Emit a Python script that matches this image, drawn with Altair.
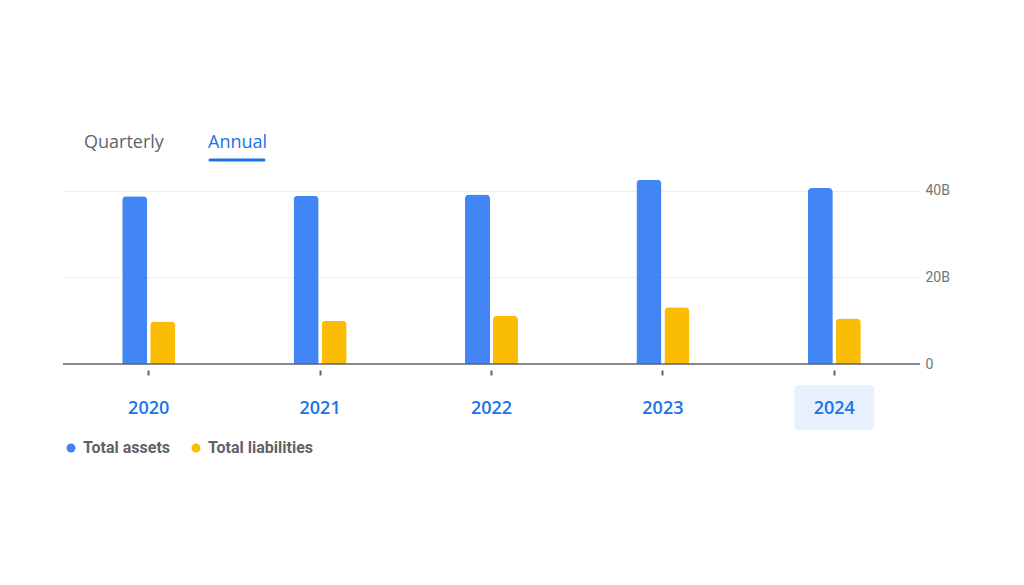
import altair as alt
import pandas as pd

years = ["2020", "2021", "2022", "2023", "2024"]
total_assets = [38.7, 38.8, 39.1, 42.5, 40.6]        # billions
total_liabilities = [9.8, 10.0, 11.1, 13.1, 10.5]    # billions
series = ["Total assets", "Total liabilities"]
colors = ["#4285f4", "#fbbc04"]
tabs = ["Quarterly", "Annual"]
selected_year = "2024"

rows = []
for y, a, l in zip(years, total_assets, total_liabilities):
    rows.append({"year": y, "series": series[0], "value": a})
    rows.append({"year": y, "series": series[1], "value": l})
df = pd.DataFrame(rows)

W, H = 857, 195
step = W / len(years)
group = 53
off_lo = (step - group) / 2

xscale = alt.Scale(domain=years, paddingInner=0, paddingOuter=0)
xaxis = alt.Axis(title=None, domain=False, offset=6, tickSize=5, tickWidth=2,
                 tickColor="#5f6368", labelColor="#1a73e8", labelFontSize=18,
                 labelFontWeight=600, labelFont="Open Sans", labelPadding=24,
                 labelAngle=0, labelAlign="center", labelOverlap=False,
                 labelBound=False, grid=False, zindex=2)

bars = alt.Chart(df).mark_bar(cornerRadiusTopLeft=4, cornerRadiusTopRight=4).encode(
    x=alt.X("year:N", scale=xscale, sort=years, axis=xaxis),
    xOffset=alt.XOffset("series:N", sort=series,
                        scale=alt.Scale(domain=series, range=[off_lo, off_lo + group],
                                        paddingInner=0.107, paddingOuter=0)),
    y=alt.Y("value:Q", scale=alt.Scale(domain=[0, 45], nice=False),
            axis=alt.Axis(title=None, orient="right", values=[0, 20, 40], domain=False,
                          ticks=False, labelExpr="datum.value == 0 ? '0' : datum.value + 'B'",
                          labelColor="#70757a", labelFontSize=14, labelFont="Roboto",
                          labelPadding=5, gridColor="#eeeeee", gridWidth=1)),
    color=alt.Color("series:N", scale=alt.Scale(domain=series, range=colors),
                    legend=alt.Legend(title=None, orient="none", legendX=0, legendY=271,
                                      direction="horizontal", symbolType="circle",
                                      symbolSize=80, symbolStrokeWidth=0,
                                      labelFontSize=16, labelFont="Roboto",
                                      labelFontWeight="bold", labelColor="#5f6368",
                                      columnPadding=17, labelOffset=4)),
)

sel_df = pd.DataFrame({"year": [selected_year]})
highlight = alt.Chart(sel_df).mark_bar(width=80, cornerRadius=4, color="#e8f0fe").encode(
    x=alt.X("year:N", scale=xscale, sort=years, axis=xaxis),
    y=alt.value(H + 21), y2=alt.value(H + 66),
)

zero_rule = alt.Chart(pd.DataFrame({"v": [0]})).mark_rule(color="#5f6368", strokeWidth=1.5).encode(
    y=alt.Y("v:Q"), x=alt.value(0), x2=alt.value(W)
)

tab_df = pd.DataFrame({"tab": tabs, "px": [21, 145], "col": ["#5f6368", "#1a73e8"]})
tab_text = alt.Chart(tab_df).mark_text(fontSize=18, font="Open Sans", align="left", baseline="middle").encode(
    x=alt.X("px:Q", scale=None), y=alt.value(-26), text="tab:N",
    color=alt.Color("col:N", scale=None),
)
underline = alt.Chart(pd.DataFrame({"a": [147], "b": [201]})).mark_rule(
    color="#1a73e8", strokeWidth=3, strokeCap="round").encode(
    x=alt.X("a:Q", scale=None), x2="b:Q", y=alt.value(-9)
)

chart = alt.layer(highlight, bars, zero_rule, tab_text, underline).resolve_scale(
    x="shared"
).properties(
    width=W, height=H,
    background="white",
    autosize=alt.AutoSizeParams(type="none"),
    padding={"left": 55, "top": 161, "right": 80, "bottom": 110},
).configure_view(strokeWidth=0)

chart.save("out.html", embed_options={"renderer": "svg", "actions": False})
